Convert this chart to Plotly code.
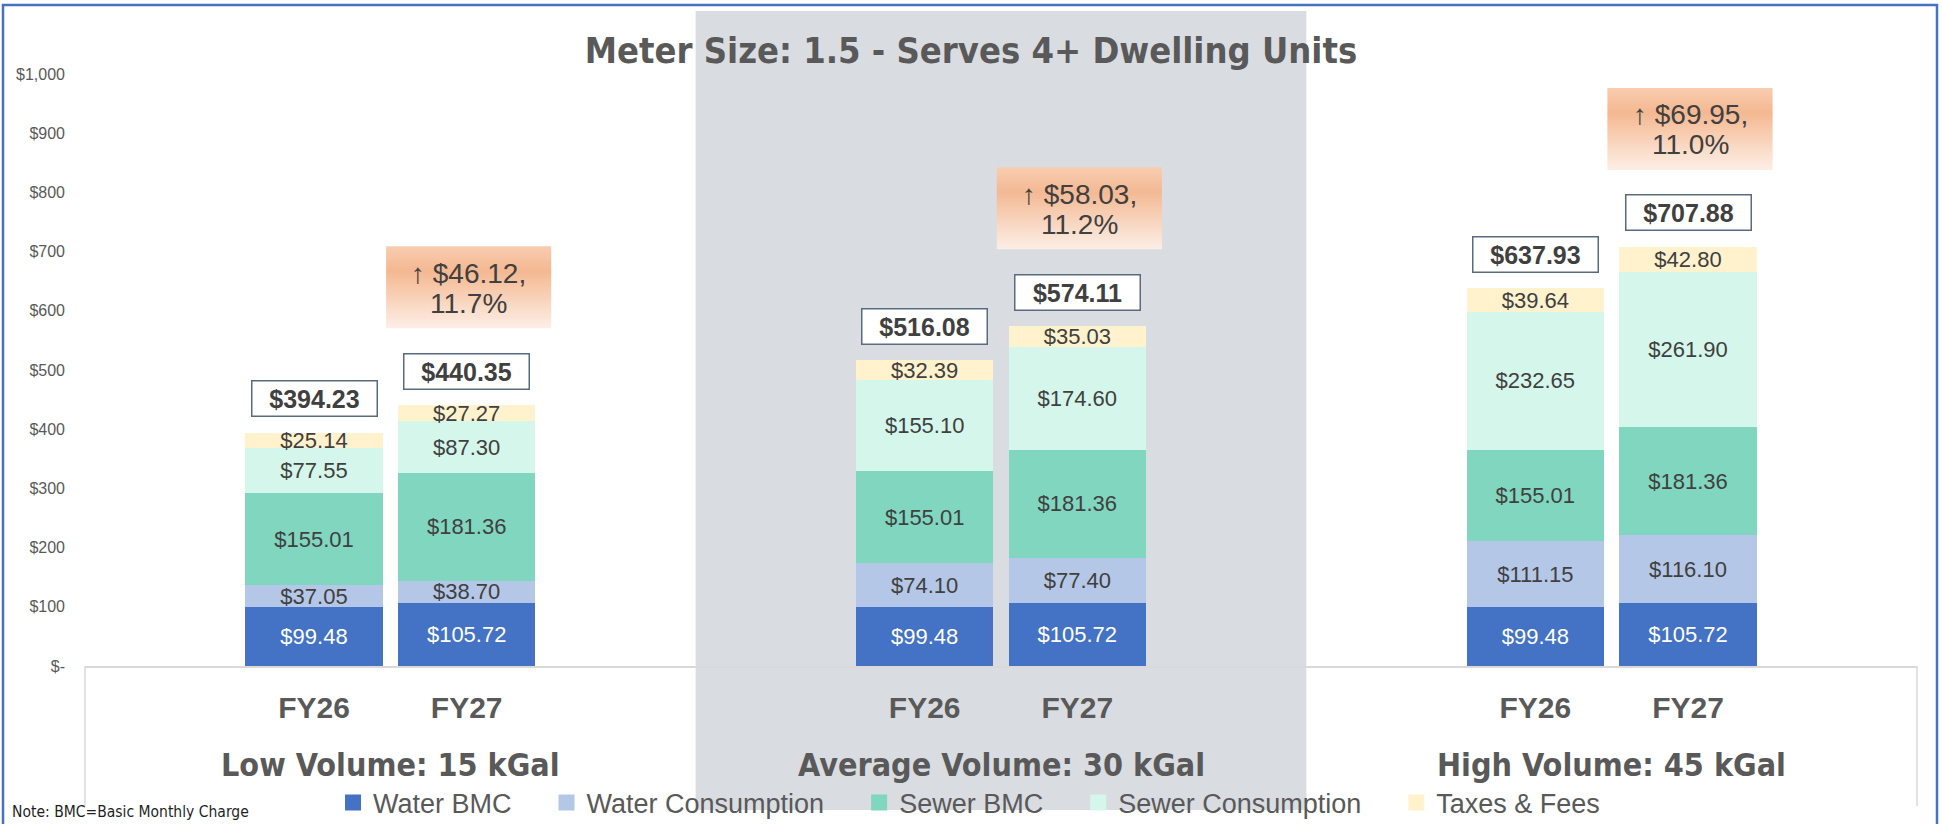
import plotly.graph_objects as go

# ---------------- data ----------------
groups = ["Low Volume: 15 kGal", "Average Volume: 30 kGal", "High Volume: 45 kGal"]
years = ["FY26", "FY27"]
series_names = ["Water BMC", "Water Consumption", "Sewer BMC", "Sewer Consumption", "Taxes & Fees"]

# order: Low FY26, Low FY27, Avg FY26, Avg FY27, High FY26, High FY27
water_bmc = [99.48, 105.72, 99.48, 105.72, 99.48, 105.72]
water_consumption = [37.05, 38.70, 74.10, 77.40, 111.15, 116.10]
sewer_bmc = [155.01, 181.36, 155.01, 181.36, 155.01, 181.36]
sewer_consumption = [77.55, 87.30, 155.10, 174.60, 232.65, 261.90]
taxes_fees = [25.14, 27.27, 32.39, 35.03, 39.64, 42.80]

y_tick_values = [0, 100, 200, 300, 400, 500, 600, 700, 800, 900, 1000]
y_tick_labels = ["$-", "$100", "$200", "$300", "$400", "$500", "$600", "$700", "$800", "$900", "$1,000"]

title_text = "Meter Size: 1.5 - Serves 4+ Dwelling Units"
note_text = "Note: BMC=Basic Monthly Charge"

# ---------------- styles ----------------
series_values = [water_bmc, water_consumption, sewer_bmc, sewer_consumption, taxes_fees]
series_colors = ["#4472C4", "#B4C7E7", "#80D6BE", "#D5F6EA", "#FFF2CC"]
label_colors = ["#FFFFFF", "#404040", "#404040", "#404040", "#404040"]

BODY = "Liberation Sans, Arial, sans-serif"
COND = "Liberation Sans Narrow, Arial Narrow, DejaVu Sans Condensed, sans-serif"
GREY_TEXT = "#595959"
DARK_TEXT = "#404040"

FIG_W, FIG_H = 1942, 824
L, R, T, B = 85, 25, 74, 158
PW, PH = FIG_W - L - R, FIG_H - T - B


def paper_x(px):
    return (px - L) / PW


def paper_y(py):
    return (FIG_H - B - py) / PH


SLOTS = 4  # blank, FY26, FY27, blank per group (Excel-style spacing)
n_groups = len(groups)
x_pos = [SLOTS * g + 1.5 + k for g in range(n_groups) for k in range(len(years))]
x_text = [years[k] for g in range(n_groups) for k in range(len(years))]
totals = [round(sum(v[i] for v in series_values), 2) for i in range(len(x_pos))]

fig = go.Figure()

LEGEND_PAD = "\u00a0" * 4
for name, vals, col, tcol in zip(series_names, series_values, series_colors, label_colors):
    fig.add_trace(go.Bar(
        x=x_pos, y=vals, name=name, width=0.9,
        marker=dict(color=col, line=dict(width=0)),
        text=[f"${v:,.2f}" for v in vals],
        textposition="inside", insidetextanchor="middle", textangle=0,
        constraintext="none",
        textfont=dict(family=BODY, size=22, color=tcol),
        showlegend=False, hoverinfo="skip",
    ))
    # legend swatch
    fig.add_trace(go.Scatter(
        x=[None], y=[None], mode="markers", name=name + LEGEND_PAD,
        marker=dict(symbol="square", size=16, color=col, line=dict(width=0)),
        showlegend=True, hoverinfo="skip",
    ))

shapes = []
annotations = []

# grey highlight behind the middle group
shapes.append(dict(
    type="rect", xref="paper", yref="paper",
    x0=SLOTS * 1 / (SLOTS * n_groups), x1=SLOTS * 2 / (SLOTS * n_groups),
    y0=paper_y(810), y1=paper_y(11),
    fillcolor="#D9DCE1", line=dict(width=0), layer="below",
))

# category dividers
for xp in (0, 1):
    shapes.append(dict(type="line", xref="paper", yref="paper",
                       x0=xp, x1=xp, y0=0, y1=paper_y(806),
                       line=dict(color="#D9D9D9", width=1.5), layer="below"))

# outer frame
shapes.append(dict(type="rect", xref="paper", yref="paper",
                   x0=paper_x(3), x1=paper_x(1937), y0=paper_y(830), y1=paper_y(5),
                   line=dict(color="#4472C4", width=2.5), fillcolor="rgba(0,0,0,0)",
                   layer="above"))

# total labels
for xp, tot in zip(x_pos, totals):
    annotations.append(dict(
        x=xp, y=tot, xref="x", yref="y", showarrow=False,
        text=f"<b>${tot:,.2f}</b>", yanchor="middle", yshift=34,
        width=120, height=30, borderpad=2, borderwidth=1.5,
        bordercolor="#5A6A7F", bgcolor="#FFFFFF",
        font=dict(family=BODY, size=25, color=DARK_TEXT),
    ))


def lerp_color(c1, c2, t):
    a = [int(c1[i:i + 2], 16) for i in (1, 3, 5)]
    b = [int(c2[i:i + 2], 16) for i in (1, 3, 5)]
    return "#" + "".join(f"{round(a[j] + (b[j] - a[j]) * t):02X}" for j in range(3))


def grad(t):
    stops = [(0.0, "#F8CDB0"), (0.3, "#F4B891"), (1.0, "#FDEFE6")]
    for (t0, c0), (t1, c1) in zip(stops[:-1], stops[1:]):
        if t <= t1:
            return lerp_color(c0, c1, (t - t0) / (t1 - t0))
    return stops[-1][1]


# increase callouts
BOX_BOTTOM, BOX_TOP, BOX_HALF_W = 77, 159, 82.5
N_STRIPS = 41
for g in range(n_groups):
    i26, i27 = 2 * g, 2 * g + 1
    inc = totals[i27] - totals[i26]
    pct = inc / totals[i26] * 100
    h = (BOX_TOP - BOX_BOTTOM) / N_STRIPS
    for s in range(N_STRIPS):
        y1 = BOX_TOP - s * h
        y0 = max(BOX_BOTTOM, BOX_TOP - (s + 1) * h - 0.7)
        shapes.append(dict(
            type="rect", xref="x", yref="y",
            xsizemode="pixel", ysizemode="pixel",
            xanchor=x_pos[i27], yanchor=totals[i27],
            x0=-BOX_HALF_W + 2, x1=BOX_HALF_W + 2, y0=y0, y1=y1,
            fillcolor=grad((s + 0.5) / N_STRIPS), line=dict(width=0), layer="above",
        ))
    mid = (BOX_TOP + BOX_BOTTOM) / 2
    annotations.append(dict(
        x=x_pos[i27], y=totals[i27], xref="x", yref="y", showarrow=False,
        text=f"\u2191 ${inc:,.2f},", yanchor="middle", yshift=mid + 14, xshift=2,
        font=dict(family=BODY, size=28, color=DARK_TEXT),
    ))
    annotations.append(dict(
        x=x_pos[i27], y=totals[i27], xref="x", yref="y", showarrow=False,
        text=f"{pct:.1f}%", yanchor="middle", yshift=mid - 16, xshift=2,
        font=dict(family=BODY, size=28, color=DARK_TEXT),
    ))

# group labels
for g, gname in enumerate(groups):
    annotations.append(dict(
        x=SLOTS * g + SLOTS / 2, y=paper_y(765), xref="x", yref="paper",
        showarrow=False, text=gname, yanchor="middle",
        font=dict(family=COND, size=32, color=GREY_TEXT, weight="bold"),
    ))

# note
annotations.append(dict(
    x=paper_x(10), y=paper_y(812), xref="paper", yref="paper",
    showarrow=False, text=note_text, xanchor="left", yanchor="middle",
    font=dict(family=COND, size=15.5, color="#1F1F1F"),
))

fig.update_layout(
    width=FIG_W, height=FIG_H,
    margin=dict(l=L, r=R, t=T, b=B, pad=0, autoexpand=False),
    paper_bgcolor="#FFFFFF", plot_bgcolor="rgba(0,0,0,0)",
    barmode="stack",
    title=dict(text=title_text, x=0.5, xref="container", xanchor="center",
               y=1 - 50 / FIG_H, yref="container", yanchor="middle",
               font=dict(family=COND, size=36, color=GREY_TEXT, weight="bold")),
    xaxis=dict(range=[0, SLOTS * n_groups], tickmode="array", tickvals=x_pos, ticktext=x_text,
               showline=True, linecolor="#D9D9D9", linewidth=1.5, ticks="",
               showgrid=False, zeroline=False, ticklabelstandoff=14, automargin=False,
               tickfont=dict(family=BODY, size=30, color=GREY_TEXT, weight="bold")),
    yaxis=dict(range=[0, 1000], tickmode="array", tickvals=y_tick_values, ticktext=y_tick_labels,
               showgrid=False, zeroline=False, showline=False, ticks="",
               ticklabelstandoff=19, automargin=False,
               tickfont=dict(family=BODY, size=16, color=GREY_TEXT)),
    legend=dict(orientation="h", x=984 / FIG_W, xref="container", xanchor="center",
                y=1 - 803 / FIG_H, yref="container", yanchor="middle", traceorder="normal",
                bgcolor="rgba(0,0,0,0)",
                font=dict(family=BODY, size=27, color=GREY_TEXT)),
    shapes=shapes,
    annotations=annotations,
    showlegend=True,
)

fig.write_html("out.html", config={"displayModeBar": False},
               post_script="document.body.style.margin='0';")
